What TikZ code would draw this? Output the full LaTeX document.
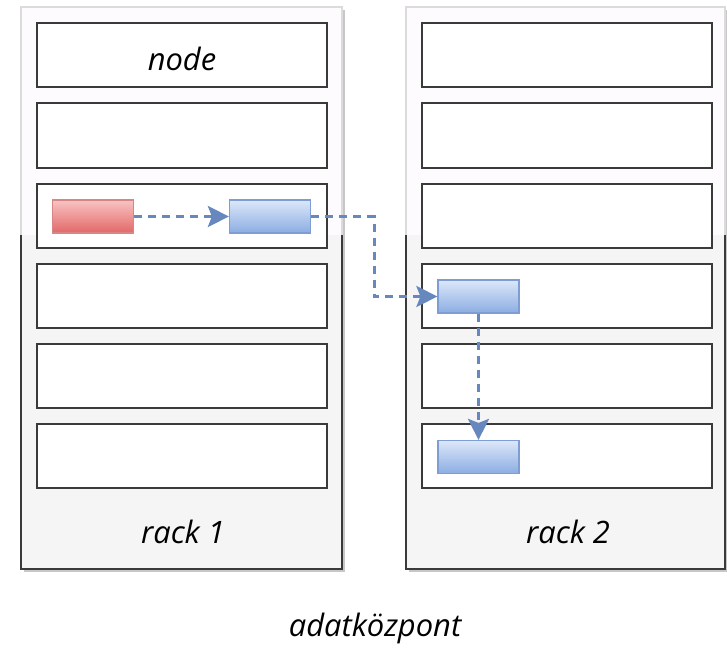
\documentclass[tikz,border=0pt]{standalone}
\usepackage{fontspec}
\setmainfont{Open Sans}
\usetikzlibrary{arrows.meta,positioning}

\definecolor{rackTop}{HTML}{FDFBFD}
\definecolor{rackLow}{HTML}{F5F5F5}
\definecolor{rackEdge}{HTML}{3A3A3A}
\definecolor{blueTop}{HTML}{DCE7F9}
\definecolor{blueBot}{HTML}{8CADE2}
\definecolor{blueLine}{HTML}{7E9ED3}
\definecolor{redTop}{HTML}{F8C4C4}
\definecolor{redBot}{HTML}{E36767}
\definecolor{redLine}{HTML}{D88585}
\definecolor{flowBlue}{HTML}{6688BF}

\begin{document}
\begin{tikzpicture}[x=1bp, y=-1bp,
  every node/.style={font=\fontsize{31}{36}\selectfont\itshape},
  slot/.style={draw=rackEdge, fill=white, line width=2bp, inner sep=0pt,
    minimum width=290bp, minimum height=64bp},
  job/.style={line width=1.2bp, inner sep=0pt, minimum width=81bp, minimum height=33bp},
  bluejob/.style={job, draw=blueLine, top color=blueTop, bottom color=blueBot},
  redjob/.style={job, draw=redLine, top color=redTop, bottom color=redBot},
  flow/.style={draw=flowBlue, line width=3bp, dash pattern=on 8bp off 6bp,
    -{Stealth[length=21bp, width=21bp, inset=4bp]}}]
%\draw [help lines, step=10bp] (0,0) grid (727,651);
\useasboundingbox (0,0) rectangle (727,651);

% racks
\foreach \l/\r/\c/\n in {21/342/182/1, 406/725/567/2}{
  \fill [black!22] (\l+3,10) rectangle (\r+3,572);
  \fill [rackLow] (\l,7) rectangle (\r,569);
  \fill [rackTop] (\l,7) rectangle (\r,235);
  \draw [black!14, line width=2bp] (\l,235) -- (\l,7) -- (\r,7) -- (\r,235);
  \draw [rackEdge, line width=2bp] (\l,235) -- (\l,569) -- (\r,569) -- (\r,235);
  \foreach \i in {1,...,6}
    \node [slot] (r\n s\i) at (\c,55.5+80*\i-80) {};
  \node (rack\n) at (\c+1,532) {rack \n};
}
\node at ([yshift=-3bp]r1s1) {node};
\node (dc) at (375,628) {adatközpont};

% jobs
\node [redjob] (src) at (93,216.5) {};
\node [bluejob] (cp1) at (270,216.5) {};
\node [bluejob] (cp2) at (478.5,296.5) {};
\node [bluejob] (cp3) at (478.5,457) {};
\coordinate (bend) at (374,296.5);

\draw [flow] (src) -- (cp1);
\draw [flow] (cp1) -| (bend) -- (cp2);
\draw [flow] (cp2) -- (cp3);
\end{tikzpicture}
\end{document}
